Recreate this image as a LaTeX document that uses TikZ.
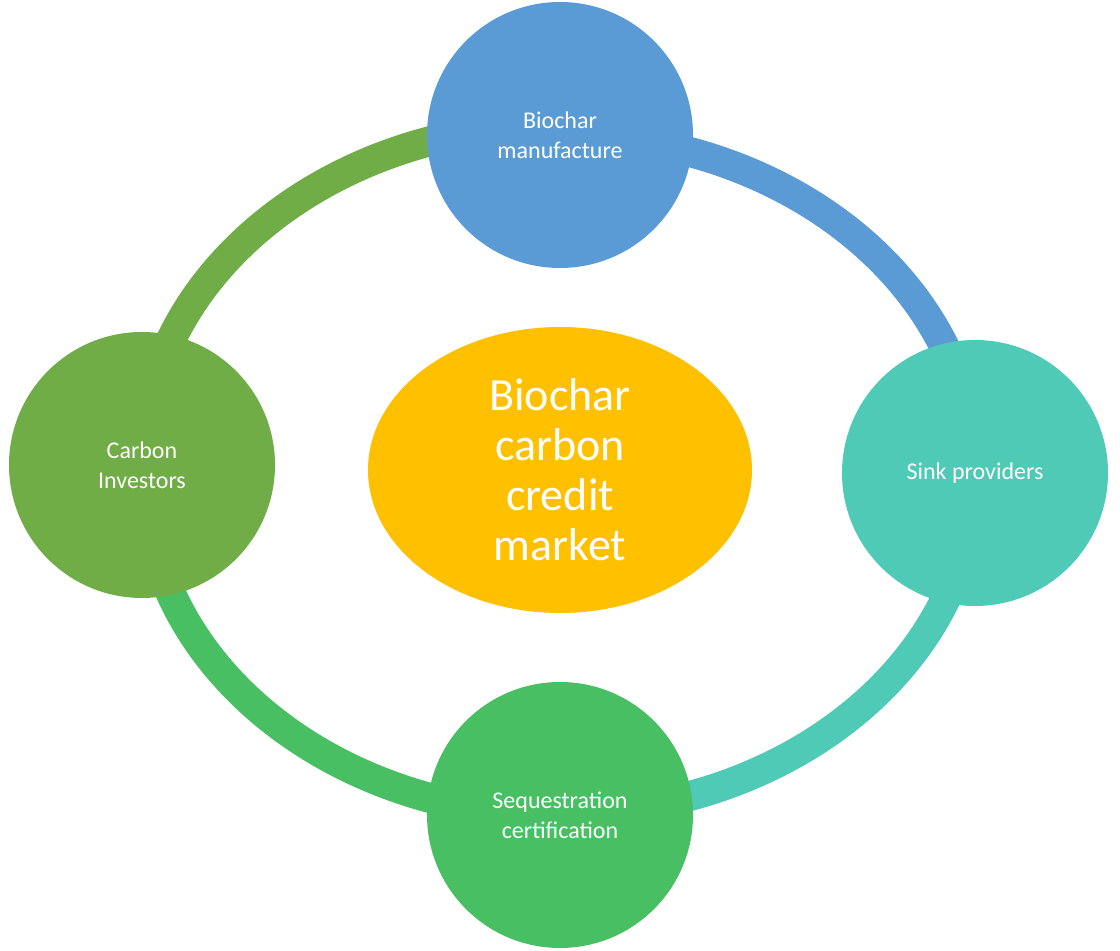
\documentclass[tikz,border=0pt]{standalone}
\usepackage{fontspec}
\setmainfont{Carlito}
\usetikzlibrary{positioning,shapes.geometric}
\definecolor{topblue}{HTML}{5B9BD5}
\definecolor{sinkteal}{HTML}{4FCAB6}
\definecolor{seqgreen}{HTML}{47BF62}
\definecolor{invgreen}{HTML}{70AD47}
\definecolor{marketgold}{HTML}{FFC000}
\tikzset{
  actor/.style={circle, minimum size=266pt, inner sep=0pt, text=white, align=center, font=\fontsize{24}{30}\selectfont},
  ring/.style={line width=30pt}
}
\begin{document}
\begin{tikzpicture}[x=1pt, y=1pt]
    \useasboundingbox (0,0) rectangle (1120,951);

    % Positions
    \coordinate (manufpos) at (560,816);
    \coordinate (sinkpos) at (975,478);
    \coordinate (seqpos) at (560,136);
    \coordinate (invpos) at (142,486);

    % Ring
    \draw[ring, topblue] (manufpos) arc[start angle=90, end angle=0, x radius=415, y radius=340];
    \draw[ring, sinkteal] (sinkpos) arc[start angle=0, end angle=-90, x radius=415, y radius=340];
    \draw[ring, seqgreen] (seqpos) arc[start angle=-90, end angle=-180, x radius=415, y radius=340];
    \draw[ring, invgreen] (invpos) arc[start angle=180, end angle=90, x radius=415, y radius=340];

    % Actors
    \node[actor, fill=topblue] (manuf) at (manufpos) {Biochar\\manufacture};
    \node[actor, fill=sinkteal] (sink) at (sinkpos) {Sink providers};
    \node[actor, fill=seqgreen] (seq) at (seqpos) {Sequestration\\certification};
    \node[actor, fill=invgreen] (inv) at (invpos) {Carbon\\Investors};

    % Market
    \node[ellipse, fill=marketgold, minimum width=384pt, minimum height=286pt, text=white, align=center,
          font=\fontsize{46}{50}\selectfont] (market) at (560,481) {Biochar\\carbon\\credit\\market};
\end{tikzpicture}
\end{document}
